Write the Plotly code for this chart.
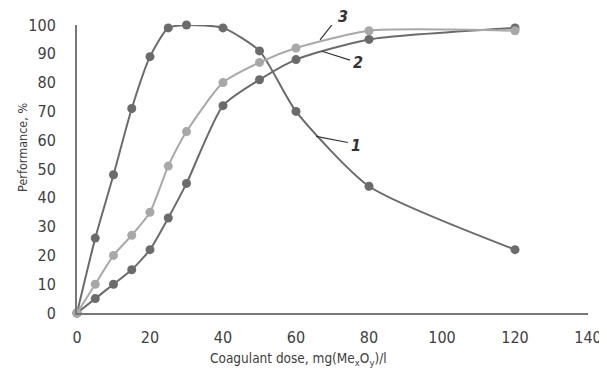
import plotly.graph_objects as go

dose = [0, 5, 10, 15, 20, 25, 30, 40, 50, 60, 80, 120]
curve1 = [0, 26, 48, 71, 89, 99, 100, 99, 91, 70, 44, 22]
curve2 = [0, 5, 10, 15, 22, 33, 45, 72, 81, 88, 95, 99]
curve3 = [0, 10, 20, 27, 35, 51, 63, 80, 87, 92, 98, 98]

x_ticks = [0, 20, 40, 60, 80, 100, 120, 140]
y_ticks = [0, 10, 20, 30, 40, 50, 60, 70, 80, 90, 100]

dark = "#6b6b6b"
light = "#a8a8a8"
txtcol = "#404040"
font = "DejaVu Sans Condensed, Liberation Sans Narrow, Roboto"

fig = go.Figure()
for ys, col in [(curve1, dark), (curve2, dark), (curve3, light)]:
    fig.add_trace(go.Scatter(
        x=dose, y=ys, mode="lines+markers",
        line=dict(color=col, width=2, shape="spline", smoothing=0.6),
        marker=dict(color=col, size=9),
        cliponaxis=False, showlegend=False,
    ))

labels = [("1", 76.5, 58, 65.5, 61.3, 74.2, 59.2),
          ("2", 77, 87, 67.1, 90.9, 74.8, 87.8),
          ("3", 73, 103, 66.6, 94.8, 70.1, 100.5)]
for txt, tx, ty, x0, y0, x1, y1 in labels:
    fig.add_shape(type="line", x0=x0, y0=y0, x1=x1, y1=y1,
                  line=dict(color="#333333", width=1.2))
    fig.add_annotation(x=tx, y=ty / 100.0, yref="paper", text="<b><i>" + txt + "</i></b>",
                       showarrow=False, xanchor="center", yanchor="middle",
                       font=dict(family=font, size=16, color="#333333"))

# axis titles (placed as annotations for exact positioning)
fig.add_annotation(xref="paper", yref="paper", x=0.434, y=-0.16,
                   text="Coagulant dose, mg(Me<sub>x</sub>O<sub>y</sub>)/l",
                   showarrow=False, xanchor="center", yanchor="middle",
                   font=dict(family=font, size=13.5, color=txtcol))
fig.add_annotation(xref="paper", yref="paper", x=-0.108, y=0.576,
                   text="Performance, %", textangle=-90,
                   showarrow=False, xanchor="center", yanchor="middle",
                   font=dict(family=font, size=12.5, color=txtcol))

fig.update_layout(
    width=599, height=362,
    margin=dict(l=69, r=19, t=17, b=57),
    paper_bgcolor="white", plot_bgcolor="white",
    font=dict(family=font, size=16, color=txtcol),
    xaxis=dict(range=[0, 140], tickvals=x_ticks, showgrid=False, zeroline=False,
               showline=True, linecolor="#777777", linewidth=2, ticks="",
               ticklabelstandoff=9, automargin=False),
    yaxis=dict(range=[0, 100], tickvals=y_ticks, showgrid=False, zeroline=False,
               showline=True, linecolor="#777777", linewidth=2, ticks="",
               ticklabelstandoff=16, automargin=False),
)

fig.write_html("out.html")
